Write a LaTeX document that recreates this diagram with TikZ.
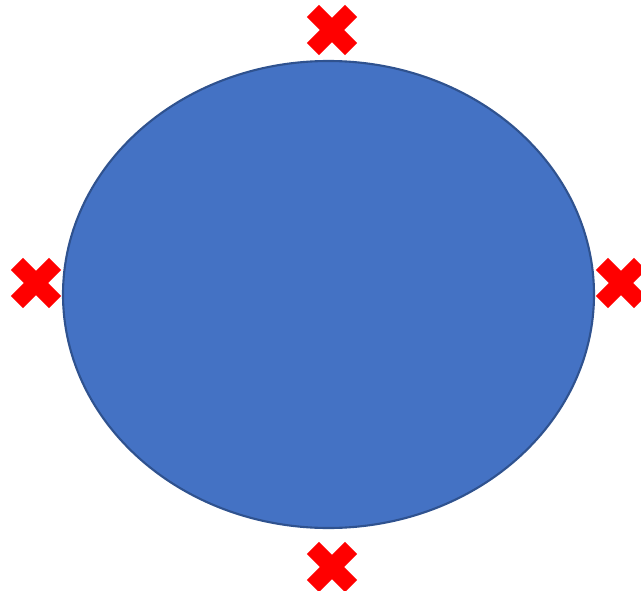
\documentclass[tikz,border=0pt]{standalone}
\usepackage{tikz}

\definecolor{discblue}{HTML}{4472C4}
\definecolor{discedge}{HTML}{2F528F}
\definecolor{markred}{HTML}{FF0000}

\tikzset{
  disc/.style={draw=discedge, fill=discblue, line width=1.8pt},
  crossarm/.style={fill=markred},
}

\begin{document}
\begin{tikzpicture}[x=0.03cm, y=-0.03cm]
		\clip (0,0) rectangle (641,591);
		\useasboundingbox (0,0) rectangle (641,591);
		\fill[white] (0,0) rectangle (641,591);
		% the disc
		\draw[disc] (328.5,294.5) ellipse [x radius=265.5, y radius=233.5];
		% the four marks round it
		\coordinate (top) at (332,30);
		\coordinate (left) at (36,283);
		\coordinate (right) at (621,283);
		\coordinate (bottom) at (332,567);
		\foreach \c in {top,left,right,bottom} {
			\begin{scope}[shift={(\c)}]
				\fill[crossarm, rotate=45] (-27,-8.5) rectangle (27,8.5);
				\fill[crossarm, rotate=-45] (-27,-8.5) rectangle (27,8.5);
			\end{scope}
		}
	\end{tikzpicture}
\end{document}
